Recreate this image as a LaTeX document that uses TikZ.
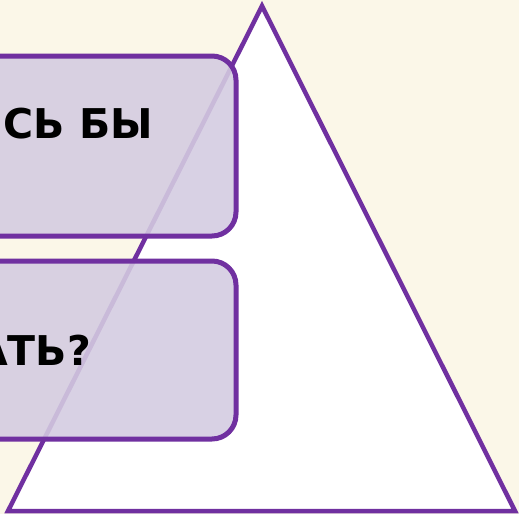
\documentclass[tikz,border=0pt]{standalone}
\usepackage{fontspec}
\setmainfont{DejaVu Sans}
\definecolor{bgcream}{HTML}{FBF7E8}
\definecolor{purp}{HTML}{7030A0}
\definecolor{lav}{HTML}{D4CCE1}
\begin{document}
\begin{tikzpicture}[x=1pt,y=-1pt,
  tri/.style={draw=purp,line width=4.5pt,fill=white,line join=miter},
  card/.style={draw=purp,line width=5pt,fill=lav,fill opacity=0.89,rounded corners=24pt},
  label/.style={font=\bfseries\fontsize{41}{48}\selectfont,text=black,inner sep=0pt,anchor=base east}]
\useasboundingbox (0,0) rectangle (519,514);
\clip (0,0) rectangle (519,514);
\fill[bgcream] (0,0) rectangle (519,514);
\coordinate (apex) at (262,6);
\coordinate (bl) at (8,511);
\coordinate (br) at (515,511);
\draw[tri] (apex) -- (br) -- (bl) -- cycle;
\draw[card] (-60,56) rectangle (236,236);
\draw[card] (-60,261) rectangle (236,439);
\node[label] (t1) at (153,138) {СЬ БЫ};
\node[label] (t2) at (91,365) {АТЬ?};
\end{tikzpicture}
\end{document}
